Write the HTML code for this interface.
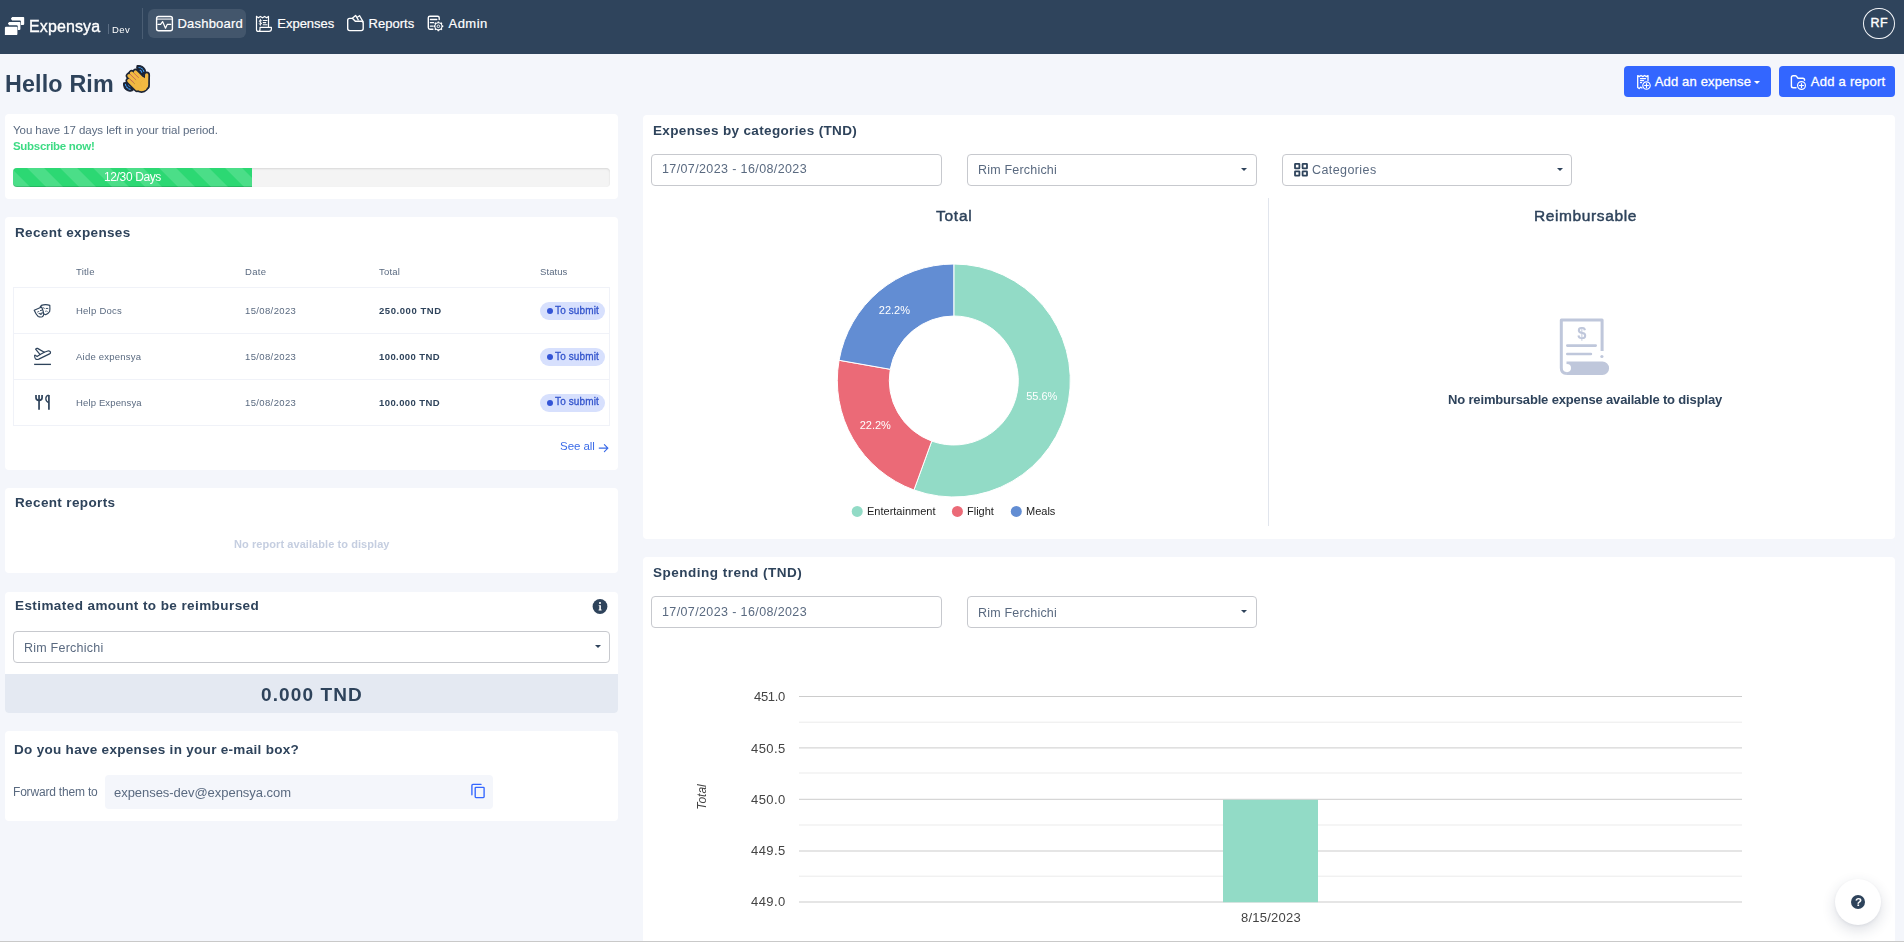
<!DOCTYPE html>
<html lang="en">
<head>
<meta charset="utf-8">
<title>Expensya - Dashboard</title>
<style>
*{box-sizing:border-box;margin:0;padding:0}
html,body{width:1904px;height:942px;overflow:hidden}
body{background:#f4f6fb;font-family:"Liberation Sans",sans-serif;position:relative}
.abs,.t,.card,.inp{position:absolute}
.t{white-space:pre;line-height:1;will-change:transform}
.t.lcd{will-change:auto}
.card{background:#fff;border-radius:4px}
.inp{background:#fff;border:1px solid #c7c9ce;border-radius:4px;height:32px}
.caret{position:absolute;width:0;height:0;border-left:3px solid transparent;border-right:3px solid transparent;border-top:3.5px solid #2e435b}
.badge{position:absolute;left:540px;width:65px;height:18px;border-radius:9px;background:#d7e0fd}
.badge i{position:absolute;left:6.5px;top:6px;width:6px;height:6px;border-radius:50%;background:#3354d6}
.rowline{position:absolute;left:13px;width:597px;height:1px;background:#f0f2f8}
svg{position:absolute;overflow:visible}
</style>
</head>
<body>
<!-- NAVBAR -->
<div class="abs" style="left:0;top:0;width:1904px;height:54px;background:#2f445c"></div>
<div class="abs" style="left:142px;top:8px;width:1px;height:31px;background:#4a5d73"></div>
<div class="abs" style="left:148px;top:9px;width:98px;height:29px;border-radius:6px;background:#43566c"></div>
<div class="abs" style="left:108px;top:24px;width:1px;height:10px;background:#5a6d83"></div>
<div class="abs" style="left:1863px;top:7.8px;width:31.8px;height:31.6px;border-radius:50%;border:1.5px solid #f2f4f7"></div>

<!-- HEADER BUTTONS -->
<div class="abs" style="left:1624px;top:66px;width:147px;height:31px;border-radius:4px;background:#3366ff"></div>
<div class="abs" style="left:1779px;top:66px;width:116px;height:31px;border-radius:4px;background:#3366ff"></div>
<div class="caret" style="left:1754px;top:81px;border-top-color:#fff"></div>

<span class="t lcd" style="left:177.5px;top:17.3px;font-size:13px;font-weight:400;color:#fff;letter-spacing:0.20px;-webkit-text-stroke:.2px #fff;">Dashboard</span>
<span class="t lcd" style="left:277.3px;top:17.3px;font-size:13px;font-weight:400;color:#fff;letter-spacing:-0.02px;-webkit-text-stroke:.2px #fff;">Expenses</span>
<span class="t lcd" style="left:368.5px;top:17.3px;font-size:13px;font-weight:400;color:#fff;letter-spacing:0.02px;-webkit-text-stroke:.2px #fff;">Reports</span>
<span class="t lcd" style="left:448.5px;top:17.3px;font-size:13px;font-weight:400;color:#fff;letter-spacing:0.48px;-webkit-text-stroke:.2px #fff;">Admin</span>
<span class="t lcd" style="left:1870.5px;top:16.9px;font-size:12.5px;font-weight:400;color:#fff;letter-spacing:0.45px;-webkit-text-stroke:.4px #fff;">RF</span>
<span class="t lcd" style="left:1654.7px;top:74.8px;font-size:13px;font-weight:400;color:#fff;letter-spacing:0.17px;-webkit-text-stroke:.3px #fff;">Add an expense</span>
<span class="t lcd" style="left:1810.7px;top:74.8px;font-size:13px;font-weight:400;color:#fff;letter-spacing:0.27px;-webkit-text-stroke:.3px #fff;">Add a report</span>

<!-- LEFT: TRIAL CARD -->
<div class="card" style="left:5px;top:114px;width:613px;height:85px"></div>
<div class="abs" style="left:13px;top:168px;width:597px;height:19px;border-radius:4px;background:#f4f4f4;box-shadow:inset 0 1px 2px rgba(0,0,0,.12)"></div>
<div class="abs" style="left:13px;top:168px;width:239px;height:19px;border-radius:4px 0 0 4px;background-color:#2cd873;background-image:linear-gradient(45deg,rgba(255,255,255,.15) 25%,transparent 25%,transparent 50%,rgba(255,255,255,.15) 50%,rgba(255,255,255,.15) 75%,transparent 75%,transparent);background-size:33px 33px;background-position:14.6px 0;box-shadow:inset 0 -1px 0 rgba(0,0,0,.15)"></div>

<!-- LEFT: RECENT EXPENSES -->
<div class="card" style="left:5px;top:217px;width:613px;height:253px"></div>
<div class="abs" style="left:13px;top:287px;width:597px;height:139px;border:1px solid #f0f2f8"></div>
<div class="rowline" style="top:333px"></div>
<div class="rowline" style="top:379px"></div>
<div class="badge" style="top:302px"><i></i></div>
<div class="badge" style="top:348px"><i></i></div>
<div class="badge" style="top:394px"><i></i></div>

<!-- LEFT: RECENT REPORTS -->
<div class="card" style="left:5px;top:488px;width:613px;height:85px"></div>

<!-- LEFT: ESTIMATED -->
<div class="card" style="left:5px;top:592px;width:613px;height:121px;overflow:hidden"><div style="position:absolute;left:0;top:82px;width:613px;height:39px;background:#e4e9f2"></div></div>
<div class="inp" style="left:13px;top:631px;width:597px"></div>
<div class="caret" style="left:595px;top:645px"></div>

<!-- LEFT: EMAIL -->
<div class="card" style="left:5px;top:731px;width:613px;height:90px"></div>
<div class="abs" style="left:105px;top:775px;width:388px;height:34px;border-radius:4px;background:#f4f6fb"></div>

<!-- RIGHT: CATEGORIES CARD -->
<div class="card" style="left:643px;top:115px;width:1252px;height:424px"></div>
<div class="inp" style="left:651px;top:154px;width:291px"></div>
<div class="inp" style="left:967px;top:154px;width:290px"></div>
<div class="inp" style="left:1282px;top:154px;width:290px"></div>
<div class="caret" style="left:1241px;top:168px"></div>
<div class="caret" style="left:1557px;top:168px"></div>
<div class="abs" style="left:1268px;top:198px;width:1px;height:328px;background:#e1e5ed"></div>

<!-- DONUT -->
<svg style="left:0;top:0;will-change:transform" width="1904" height="942" viewBox="0 0 1904 942">
<g stroke="#fff" stroke-width="1">
<path fill="#92dbc6" d="M953.8,264 A116.5,116.5 0 1 1 913.95,489.97 L931.74,441.11 A64.5,64.5 0 1 0 953.8,316 Z"/>
<path fill="#eb6a77" d="M913.95,489.97 A116.5,116.5 0 0 1 839.07,360.27 L890.28,369.3 A64.5,64.5 0 0 0 931.74,441.11 Z"/>
<path fill="#628dd3" d="M839.07,360.27 A116.5,116.5 0 0 1 953.8,264 L953.8,316 A64.5,64.5 0 0 0 890.28,369.3 Z"/>
</g>
<g font-family="Liberation Sans, sans-serif" font-size="11" fill="#fff" text-anchor="middle">
<text x="1041.8" y="400.2">55.6%</text>
<text x="894.4" y="314.3">22.2%</text>
<text x="875.3" y="429.3">22.2%</text>
</g>
<circle cx="857.2" cy="511.4" r="5.5" fill="#92dbc6"/>
<circle cx="957.4" cy="511.4" r="5.5" fill="#eb6a77"/>
<circle cx="1016.3" cy="511.4" r="5.5" fill="#628dd3"/>
<g font-family="Liberation Sans, sans-serif" font-size="11" fill="#222">
<text x="867" y="515.2">Entertainment</text>
<text x="967" y="515.2">Flight</text>
<text x="1026" y="515.2">Meals</text>
</g>
</svg>

<!-- RIGHT: SPENDING CARD -->
<div class="card" style="left:643px;top:557px;width:1252px;height:400px"></div>
<div class="inp" style="left:651px;top:596px;width:291px"></div>
<div class="inp" style="left:967px;top:596px;width:290px"></div>
<div class="caret" style="left:1241px;top:610px"></div>
<!-- gridlines -->
<svg style="left:0;top:0" width="1904" height="942" viewBox="0 0 1904 942" shape-rendering="auto">
<rect x="799" y="696.00" width="943" height="1" fill="#ccc"/>
<rect x="799" y="721.70" width="943" height="1" fill="#ebebeb"/>
<rect x="799" y="747.40" width="943" height="1" fill="#ccc"/>
<rect x="799" y="772.50" width="943" height="1" fill="#ebebeb"/>
<rect x="799" y="798.80" width="943" height="1" fill="#ccc"/>
<rect x="799" y="824.50" width="943" height="1" fill="#ebebeb"/>
<rect x="799" y="850.50" width="943" height="1" fill="#ccc"/>
<rect x="799" y="875.70" width="943" height="1" fill="#ebebeb"/>
<rect x="799" y="901.50" width="943" height="1" fill="#ccc"/>
<rect x="1223" y="799.8" width="95" height="102.4" fill="#92dbc6"/>
</svg>
<div class="t" style="left:688px;top:791px;width:28px;text-align:center;font-size:12px;font-style:italic;color:#444;transform:rotate(-90deg);transform-origin:50% 50%">Total</div>

<!-- HELP FAB -->
<div class="abs" style="left:1835px;top:879px;width:46px;height:46px;border-radius:50%;background:#fff;box-shadow:0 5px 14px rgba(40,50,80,.16),0 1px 3px rgba(40,50,80,.06)"></div>
<div class="abs" style="left:1851px;top:895px;width:14px;height:14px;border-radius:50%;background:#2e435b"></div>
<div class="t" style="left:1854.6px;top:896.6px;font-size:11.5px;font-weight:700;color:#fff">?</div>

<!-- bottom window line -->
<div class="abs" style="left:0;top:941px;width:1904px;height:1px;background:#c9c9c9"></div>

<!-- LOGO -->
<svg style="left:0;top:0" width="40" height="54" viewBox="0 0 40 54">
<g fill="#fff">
<path d="M12.2,17 H23.4 Q24.2,17 24.2,17.8 V24 Q24.2,25.1 23.1,25.1 H20.9 V21.4 Q20.9,20.4 19.9,20.4 H12.2 L11,18.9 Q10.9,18.6 11.2,18.2 Z"/>
<path d="M9.2,22 H19.6 Q20.4,22 20.4,22.8 V28.9 Q20.4,30 19.3,30 H17.8 V26.4 Q17.8,25.2 16.6,25.2 H9.2 L8,23.8 Q7.9,23.5 8.2,23.1 Z"/>
<path d="M6,26.8 H16.5 Q17.4,26.8 17.4,27.7 V33.9 Q17.4,35.1 16.2,35.1 H4.9 V27.9 Q4.9,26.8 6,26.8 Z"/>
</g>
</svg>
<!-- DASHBOARD ICON -->
<svg style="left:150px;top:10px" width="30" height="28" viewBox="150 10 30 28">
<rect x="156.6" y="16.5" width="15.8" height="14.2" rx="2" fill="none" stroke="#fff" stroke-width="1.4"/>
<path d="M157,19.1 H172" stroke="#fff" stroke-opacity=".75" stroke-width="1.4" fill="none"/>
<path d="M158,24.4 H160.6 L162.6,21.6 L165.5,28.2 L167.2,24.4 H170.8" stroke="#fff" stroke-width="1.2" fill="none" stroke-linejoin="round" stroke-linecap="round"/>
</svg>
<!-- EXPENSES ICON -->
<svg style="left:250px;top:10px" width="30" height="28" viewBox="250 10 30 28">
<g fill="none" stroke="#fff" stroke-width="1.2" stroke-linejoin="round" stroke-linecap="round">
<path d="M256.5,16.4 L258.3,17.8 L260.4,16.4 L262.5,17.8 L264.6,16.4 L266.7,17.8 L268.5,16.4 V26.8"/>
<path d="M256.5,16.4 V29.4 Q256.5,31.4 258.3,31.4 Q260,31.4 260,29.2 V27.3 H271.4 V29 Q271.4,31.4 269,31.4 H258.3"/>
<path d="M261.6,29.3 H269.6" stroke-opacity=".0"/>
<path d="M263.2,20.5 H267 M263.2,22.6 H265.8 M263.2,24.7 H267" stroke-width="1.1"/>
<path d="M261.6,20.7 Q260.4,19.8 259.4,20.7 Q258.6,21.8 260.4,22.3 Q262.2,22.9 261.3,24 Q260.3,24.9 259.1,23.9 M260.4,19.2 V25.3" stroke-width=".9"/>
</g>
</svg>
<!-- REPORTS ICON -->
<svg style="left:340px;top:10px" width="30" height="28" viewBox="340 10 30 28">
<g fill="none" stroke="#fff" stroke-width="1.4" stroke-linejoin="round" stroke-linecap="round">
<path d="M349.6,18.4 H352.6 L355.3,21.3 H361.4 Q363.2,21.3 363.2,23.2 V28.6 Q363.2,30.6 361.2,30.6 H349.8 Q347.7,30.6 347.7,28.6 V20.3 Q347.7,18.4 349.6,18.4 Z"/>
<path d="M352.4,18.2 L355.6,15.4 L358.3,19.8 M357.6,17 L359.6,15.7 L363,21.6" stroke-width="1.3"/>
</g>
</svg>
<!-- ADMIN ICON -->
<svg style="left:420px;top:10px" width="30" height="28" viewBox="420 10 30 28">
<g fill="none" stroke="#fff" stroke-width="1.4" stroke-linejoin="round" stroke-linecap="round">
<path d="M432.9,29.2 H429.9 Q428.3,29.2 428.3,27.6 V17.8 Q428.3,16.2 429.9,16.2 H437.6 Q439.2,16.2 439.2,17.8 V19.6"/>
<path d="M430.4,19.5 H436.8 M430.4,22.7 H433.6 M430.4,26.2 H432.6" stroke-width="1.3"/>
</g>
<g transform="translate(438.4,26.3)">
<path fill="#fff" fill-rule="evenodd" d="M-0.69,-4.90 L0.69,-4.90 L1.05,-3.91 L2.02,-3.51 L2.98,-3.95 L3.95,-2.98 L3.51,-2.03 L3.91,-1.05 L4.90,-0.69 L4.90,0.69 L3.91,1.05 L3.51,2.02 L3.95,2.98 L2.98,3.95 L2.02,3.51 L1.05,3.91 L0.69,4.90 L-0.69,4.90 L-1.05,3.91 L-2.03,3.51 L-2.98,3.95 L-3.95,2.98 L-3.51,2.03 L-3.91,1.05 L-4.90,0.69 L-4.90,-0.69 L-3.91,-1.05 L-3.51,-2.03 L-3.95,-2.98 L-2.98,-3.95 L-2.03,-3.51 L-1.05,-3.91 Z M0,-3 A3,3 0 1 0 0,3 A3,3 0 1 0 0,-3 Z"/>
<circle r="1.3" fill="none" stroke="#fff" stroke-width=".9"/>
</g>
</svg>
<!-- ADD EXPENSE ICON -->
<svg style="left:1630px;top:68px" width="30" height="28" viewBox="1630 68 30 28">
<g fill="none" stroke="#fff" stroke-width="1.3" stroke-linejoin="round" stroke-linecap="round">
<path d="M1642,88 L1640.6,87.1 L1639.2,88.6 L1637.7,87.4 V75.6 L1639.3,76.6 L1641,75.5 L1642.8,76.6 L1644.6,75.5 L1646.4,76.6 L1648,75.6 V80.4"/>
<path d="M1640.4,78.6 H1645.6 M1640.4,80.6 H1643.6 M1640.4,82.6 H1641.6" stroke-width="1.1"/>
<circle cx="1646.5" cy="85.5" r="3.7" stroke-width="1.2"/>
<path d="M1646.5,83.6 V87.4 M1644.6,85.5 H1648.4" stroke-width="1.2"/>
</g>
</svg>
<!-- ADD REPORT ICON -->
<svg style="left:1784px;top:68px" width="30" height="28" viewBox="1784 68 30 28">
<g fill="none" stroke="#fff" stroke-width="1.4" stroke-linejoin="round" stroke-linecap="round">
<path d="M1796,87.8 H1793.2 Q1791.4,87.8 1791.4,86 V77.6 Q1791.4,75.8 1793.2,75.8 H1795.4 Q1796,75.8 1796.5,76.4 L1798,78.2 H1802.8 Q1804.6,78.2 1804.6,80.2"/>
<circle cx="1801.5" cy="85.5" r="3.9" stroke-width="1.2"/>
<path d="M1801.5,83.5 V87.5 M1799.5,85.5 H1803.5" stroke-width="1.2"/>
</g>
</svg>
<!-- WAVE EMOJI -->
<svg style="left:118px;top:60px" width="38" height="38" viewBox="0 0 942 942">
<path d="M472,138 Q600,118 668,232 Q692,282 690,335 L600,385 L482,245 Q452,190 472,138 Z" fill="#1c2536" stroke="#1c2536" stroke-width="26" stroke-linejoin="round"/>
<path d="M138,568 Q122,700 232,758 Q300,790 368,758 L400,690 L232,545 Z" fill="#1c2536" stroke="#1c2536" stroke-width="26" stroke-linejoin="round"/>
<g fill="none" stroke-linecap="round" stroke="#3d9df6">
<path d="M518,184 Q610,195 640,285" stroke-width="26" stroke-dasharray="34 34"/>
<path d="M548,256 Q585,272 590,308" stroke-width="26"/>
<path d="M183,600 Q200,700 318,732" stroke-width="26" stroke-dasharray="40 32"/>
<path d="M258,604 Q265,650 312,660" stroke-width="26"/>
</g>
<g fill="#1c2536" stroke="#1c2536" stroke-width="78" stroke-linejoin="round">
<g transform="translate(560,600) rotate(225)">
<rect x="-60" y="78" width="405" height="88" rx="44"/>
<rect x="-60" y="-11" width="452" height="89" rx="44"/>
<rect x="-60" y="-99" width="452" height="88" rx="44"/>
<rect x="-60" y="-187" width="370" height="88" rx="44"/>
</g>
<ellipse cx="583" cy="600" rx="163" ry="176"/>
</g>
<path d="M706,640 L712,368" stroke="#1c2536" stroke-width="166" stroke-linecap="round" fill="none"/>
<g fill="#f1b942">
<g transform="translate(560,600) rotate(225)">
<rect x="-60" y="78" width="405" height="88" rx="44"/>
<rect x="-60" y="-11" width="452" height="89" rx="44"/>
<rect x="-60" y="-99" width="452" height="88" rx="44"/>
<rect x="-60" y="-187" width="370" height="88" rx="44"/>
</g>
<ellipse cx="583" cy="600" rx="163" ry="176"/>
</g>
<path d="M706,640 L712,368" stroke="#f1b942" stroke-width="82" stroke-linecap="round" fill="none"/>
<g stroke="#d83f6e" stroke-width="18" stroke-dasharray="22 12" fill="none">
<path d="M400,330 L510,435"/><path d="M300,355 L440,485"/><path d="M290,470 L390,555"/>
</g>
<path d="M655,470 L555,560 L580,660" stroke="#e3ad3c" stroke-width="10" fill="none"/>
</svg>
<!-- MASKS ICON -->
<svg style="left:28px;top:298px" width="30" height="26" viewBox="0 0 1087 942">
<g fill="none" stroke="#2e435b" stroke-width="42" stroke-linejoin="round" stroke-linecap="round">
<path d="M225,445 L495,325 Q560,480 572,590 Q560,650 515,680 Q440,700 370,668 Q290,600 225,445 Z"/>
<path d="M440,330 L485,268 Q640,215 790,268 Q800,400 785,490 Q730,580 640,600 Q610,600 590,585"/>
<path d="M345,505 Q370,478 395,490 M445,455 Q470,430 497,442" stroke-width="34"/>
<path d="M405,565 Q470,570 525,525 Q520,590 470,600 Q425,605 405,565 Z" fill="#2e435b" fill-opacity=".55" stroke-width="26"/>
<path d="M660,378 Q690,362 722,380 M565,355 Q590,352 600,372" stroke-width="34"/>
<path d="M628,478 Q662,452 702,486" stroke-width="24"/>
</g>
</svg>
<!-- PLANE ICON -->
<svg style="left:28px;top:343px" width="30" height="26" viewBox="0 0 1087 942">
<g fill="none" stroke="#2e435b" stroke-width="44" stroke-linejoin="round" stroke-linecap="round">
<path d="M240,450 Q255,430 275,448 L330,492 L440,418 L275,225 Q300,185 345,195 L590,335 L720,290 Q790,275 815,330 Q825,370 780,395 L390,585 Q330,610 285,585 Q240,555 240,450 Z"/>
<path d="M440,418 L590,335"/>
<path d="M222,775 H832" stroke-width="48" stroke-linecap="butt"/>
</g>
</svg>
<!-- UTENSILS ICON -->
<svg style="left:28px;top:389px" width="30" height="26" viewBox="0 0 1087 942">
<g fill="none" stroke="#2e435b" stroke-width="62" stroke-linejoin="round">
<path d="M290,215 V320 Q290,415 400,415 Q510,415 510,320 V215"/>
<path d="M400,215 V755"/>
<path d="M758,215 V755"/>
<path d="M750,225 Q640,250 645,360 Q655,460 750,490" stroke-width="46"/>
</g>
</svg>
<!-- SEE ALL ARROW -->
<svg style="left:596px;top:440px" width="16" height="16" viewBox="596 440 16 16">
<path d="M599.2,448.1 H607.6 M604.4,444.6 L607.9,448.1 L604.4,451.6" fill="none" stroke="#3b6be8" stroke-width="1.15" stroke-linecap="round" stroke-linejoin="round"/>
</svg>
<!-- INFO ICON -->
<svg style="left:590px;top:596px" width="20" height="20" viewBox="590 596 20 20">
<circle cx="600" cy="606.5" r="7.4" fill="#2e435b"/>
<circle cx="600" cy="603" r="1.05" fill="#fff"/>
<path d="M598.7,605.2 H600.9 V609.6 H601.6 V610.5 H598.6 V609.6 H599.3 V606.1 H598.7 Z" fill="#fff"/>
</svg>
<!-- COPY ICON -->
<svg style="left:468px;top:780px" width="22" height="22" viewBox="468 780 22 22">
<g fill="none" stroke="#3366ff" stroke-width="1.35" stroke-linejoin="round" stroke-linecap="round">
<rect x="475.2" y="787.3" width="8.9" height="10.3" rx=".8"/>
<path d="M471.9,794.8 V785.4 Q471.9,784.4 472.9,784.4 H481"/>
</g>
</svg>
<!-- GRID ICON -->
<svg style="left:1292px;top:161px" width="18" height="18" viewBox="1292 161 18 18">
<g fill="none" stroke="#2e435b" stroke-width="1.8">
<rect x="1295" y="163.9" width="4.4" height="4.4" rx=".4"/>
<rect x="1302.6" y="163.9" width="4.4" height="4.4" rx=".4"/>
<rect x="1295" y="171.3" width="4.4" height="4.4" rx=".4"/>
<rect x="1302.6" y="171.3" width="4.4" height="4.4" rx=".4"/>
</g>
</svg>
<!-- BIG RECEIPT ICON -->
<svg style="left:1555px;top:314px;will-change:transform" width="60" height="66" viewBox="1555 314 60 66">
<path d="M1566.5,361.5 H1602.4 A6.7,6.7 0 0 1 1602.4,374.9 H1566.5 Z" fill="#bfc7db"/>
<circle cx="1566.9" cy="368.1" r="4.1" fill="#fff"/>
<g fill="none" stroke="#bfc7db" stroke-linecap="round" stroke-linejoin="round">
<path d="M1602.1,351 V319.9 H1561.3 V368 Q1561.3,373.4 1566.8,373.4" stroke-width="3" stroke-linecap="butt"/>
<path d="M1567.3,345.6 H1595.7 M1567.3,354 H1590.9" stroke-width="2.6"/>
</g>
<circle cx="1601.9" cy="356.5" r="1.6" fill="#bfc7db"/>
<text x="1581.8" y="338.6" text-anchor="middle" font-family="Liberation Sans, sans-serif" font-weight="700" font-size="16.5" fill="#bfc7db">$</text>
</svg>

<span class="t" style="left:29.0px;top:18.7px;font-size:16px;font-weight:400;color:#fff;letter-spacing:0.11px;-webkit-text-stroke:.35px #fff;">Expensya</span>
<span class="t" style="left:111.6px;top:24.6px;font-size:9.5px;font-weight:400;color:#fff;letter-spacing:0.47px;">Dev</span>
<span class="t" style="left:4.9px;top:72.7px;font-size:23.3px;font-weight:700;color:#2e435b;letter-spacing:0.16px;">Hello Rim</span>
<span class="t" style="left:12.6px;top:124.5px;font-size:11.5px;font-weight:400;color:#5a6a80;letter-spacing:-0.06px;">You have 17 days left in your trial period.</span>
<span class="t" style="left:12.6px;top:141.3px;font-size:11.5px;font-weight:700;color:#3ddb84;letter-spacing:-0.30px;">Subscribe now!</span>
<span class="t" style="left:103.7px;top:171.2px;font-size:12px;font-weight:400;color:#fff;letter-spacing:-0.37px;">12/30 Days</span>
<span class="t" style="left:14.6px;top:225.6px;font-size:13.5px;font-weight:700;color:#2e435b;letter-spacing:0.35px;">Recent expenses</span>
<span class="t" style="left:76.1px;top:267.2px;font-size:9.5px;font-weight:400;color:#5a6a80;letter-spacing:0.21px;">Title</span>
<span class="t" style="left:244.6px;top:267.2px;font-size:9.5px;font-weight:400;color:#5a6a80;letter-spacing:0.33px;">Date</span>
<span class="t" style="left:379.3px;top:267.2px;font-size:9.5px;font-weight:400;color:#5a6a80;letter-spacing:0.22px;">Total</span>
<span class="t" style="left:539.8px;top:267.2px;font-size:9.5px;font-weight:400;color:#5a6a80;letter-spacing:0.08px;">Status</span>
<span class="t" style="left:75.7px;top:306.2px;font-size:9.5px;font-weight:400;color:#5a6a80;letter-spacing:0.24px;">Help Docs</span>
<span class="t" style="left:244.6px;top:306.2px;font-size:9.5px;font-weight:400;color:#5a6a80;letter-spacing:0.37px;">15/08/2023</span>
<span class="t" style="left:379.3px;top:306.2px;font-size:9.5px;font-weight:700;color:#2e435b;letter-spacing:0.56px;">250.000 TND</span>
<span class="t" style="left:554.9px;top:306.0px;font-size:10px;font-weight:400;color:#3354cc;letter-spacing:0.13px;-webkit-text-stroke:.3px #3354cc;">To submit</span>
<span class="t" style="left:75.7px;top:352.2px;font-size:9.5px;font-weight:400;color:#5a6a80;letter-spacing:0.23px;">Aide expensya</span>
<span class="t" style="left:244.6px;top:352.2px;font-size:9.5px;font-weight:400;color:#5a6a80;letter-spacing:0.37px;">15/08/2023</span>
<span class="t" style="left:379.3px;top:352.2px;font-size:9.5px;font-weight:700;color:#2e435b;letter-spacing:0.41px;">100.000 TND</span>
<span class="t" style="left:554.9px;top:352.0px;font-size:10px;font-weight:400;color:#3354cc;letter-spacing:0.13px;-webkit-text-stroke:.3px #3354cc;">To submit</span>
<span class="t" style="left:75.7px;top:397.5px;font-size:9.5px;font-weight:400;color:#5a6a80;letter-spacing:0.14px;">Help Expensya</span>
<span class="t" style="left:244.6px;top:397.5px;font-size:9.5px;font-weight:400;color:#5a6a80;letter-spacing:0.37px;">15/08/2023</span>
<span class="t" style="left:379.3px;top:397.5px;font-size:9.5px;font-weight:700;color:#2e435b;letter-spacing:0.41px;">100.000 TND</span>
<span class="t" style="left:554.9px;top:397.3px;font-size:10px;font-weight:400;color:#3354cc;letter-spacing:0.13px;-webkit-text-stroke:.3px #3354cc;">To submit</span>
<span class="t" style="left:559.9px;top:441.1px;font-size:11.5px;font-weight:400;color:#3b6be8;letter-spacing:-0.04px;">See all</span>
<span class="t" style="left:14.6px;top:496.3px;font-size:13.5px;font-weight:700;color:#2e435b;letter-spacing:0.37px;">Recent reports</span>
<span class="t" style="left:234.1px;top:538.7px;font-size:11px;font-weight:700;color:#c5cee0;letter-spacing:0.07px;">No report available to display</span>
<span class="t" style="left:14.6px;top:599.4px;font-size:13.5px;font-weight:700;color:#2e435b;letter-spacing:0.42px;">Estimated amount to be reimbursed</span>
<span class="t" style="left:23.6px;top:641.7px;font-size:12.5px;font-weight:400;color:#5a6a80;letter-spacing:0.23px;">Rim Ferchichi</span>
<span class="t" style="left:261.2px;top:684.6px;font-size:19px;font-weight:700;color:#2e435b;letter-spacing:1.10px;">0.000 TND</span>
<span class="t" style="left:14.2px;top:742.9px;font-size:13.5px;font-weight:700;color:#2e435b;letter-spacing:0.30px;">Do you have expenses in your e-mail box?</span>
<span class="t" style="left:12.9px;top:786.4px;font-size:12px;font-weight:400;color:#5a6a80;letter-spacing:-0.19px;">Forward them to</span>
<span class="t" style="left:113.7px;top:785.6px;font-size:13px;font-weight:400;color:#5a6a80;letter-spacing:-0.04px;">expenses-dev@expensya.com</span>
<span class="t" style="left:653.1px;top:123.6px;font-size:13.5px;font-weight:700;color:#2e435b;letter-spacing:0.35px;">Expenses by categories (TND)</span>
<span class="t" style="left:662.1px;top:163.4px;font-size:12.5px;font-weight:400;color:#5a6a80;letter-spacing:0.38px;">17/07/2023 - 16/08/2023</span>
<span class="t" style="left:977.8px;top:164.4px;font-size:12.5px;font-weight:400;color:#5a6a80;letter-spacing:0.20px;">Rim Ferchichi</span>
<span class="t" style="left:1312.1px;top:164.4px;font-size:12.5px;font-weight:400;color:#5a6a80;letter-spacing:0.41px;">Categories</span>
<span class="t" style="left:936.2px;top:207.9px;font-size:15.5px;font-weight:400;color:#2e435b;letter-spacing:0.74px;-webkit-text-stroke:.45px #2e435b;">Total</span>
<span class="t" style="left:1533.7px;top:207.9px;font-size:15.5px;font-weight:400;color:#2e435b;letter-spacing:0.61px;-webkit-text-stroke:.45px #2e435b;">Reimbursable</span>
<span class="t" style="left:1447.7px;top:393.2px;font-size:13px;font-weight:700;color:#2e435b;letter-spacing:-0.16px;">No reimbursable expense available to display</span>
<span class="t" style="left:653.1px;top:565.6px;font-size:13.5px;font-weight:700;color:#2e435b;letter-spacing:0.49px;">Spending trend (TND)</span>
<span class="t" style="left:662.1px;top:606.4px;font-size:12.5px;font-weight:400;color:#5a6a80;letter-spacing:0.38px;">17/07/2023 - 16/08/2023</span>
<span class="t" style="left:977.8px;top:607.4px;font-size:12.5px;font-weight:400;color:#5a6a80;letter-spacing:0.20px;">Rim Ferchichi</span>
<span class="t" style="left:754.0px;top:690.0px;font-size:13px;font-weight:400;color:#444;letter-spacing:-0.34px;">451.0</span>
<span class="t" style="left:751.0px;top:741.6px;font-size:13px;font-weight:400;color:#444;letter-spacing:0.41px;">450.5</span>
<span class="t" style="left:751.0px;top:792.7px;font-size:13px;font-weight:400;color:#444;letter-spacing:0.41px;">450.0</span>
<span class="t" style="left:751.0px;top:844.4px;font-size:13px;font-weight:400;color:#444;letter-spacing:0.41px;">449.5</span>
<span class="t" style="left:751.0px;top:895.2px;font-size:13px;font-weight:400;color:#444;letter-spacing:0.41px;">449.0</span>
<span class="t" style="left:1240.5px;top:910.8px;font-size:13px;font-weight:400;color:#444;letter-spacing:0.23px;">8/15/2023</span>
</body>
</html>
